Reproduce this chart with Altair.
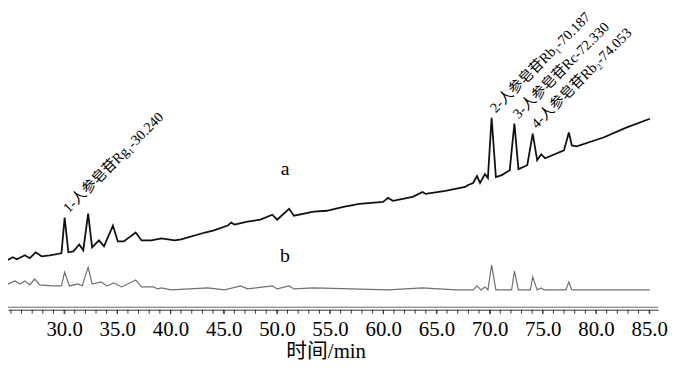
import altair as alt
import pandas as pd

# ---- data ----
time_a = [23.98, 24.35, 24.63, 25.19, 25.56, 26.31, 26.77, 27.33, 27.89, 28.63,
          29.75, 30.05, 30.40, 30.87, 31.42, 31.80, 32.26, 32.63, 33.28, 33.75,
          34.59, 35.05, 35.61, 36.73, 37.28, 38.21, 39.14, 40.40, 41.00, 43.24,
          44.00, 45.38, 45.70, 46.03, 47.24, 48.45, 49.57, 50.03, 51.15, 51.61,
          53.47, 54.68, 56.26, 57.75, 59.98, 60.45, 60.91, 62.77, 63.70, 63.98,
          65.84, 67.70, 67.98, 68.45, 68.82, 69.10, 69.56, 69.84, 70.187, 70.59,
          71.15, 71.89, 72.33, 72.71, 73.54, 74.053, 74.47, 74.85, 75.22, 76.99,
          77.45, 77.73, 78.19, 80.70, 82.84, 85.07]
signal_a = [53, 58, 50, 53, 51, 55, 52, 58, 54, 55,
            57, 93, 58, 59, 66, 60, 97, 63, 70, 64,
            85, 69, 69, 78, 70, 70, 72, 70, 71, 78,
            80, 85, 88, 86, 89, 91, 96, 91, 102, 95,
            99, 100, 104, 107, 109, 113, 110, 114, 119, 117,
            120, 124, 126, 128, 135, 128, 137, 133, 194, 134,
            136, 141, 188, 142, 146, 178, 151, 157, 153, 161,
            179, 166, 165, 174, 184, 193]

time_b = [23.98, 24.35, 24.73, 25.38, 25.84, 26.31, 26.77, 27.24, 27.70, 28.91,
          29.75, 30.05, 30.49, 31.33, 31.70, 32.26, 32.63, 33.47, 34.03, 34.68,
          35.42, 36.73, 37.28, 38.40, 38.80, 39.14, 40.07, 43.51, 45.10, 46.59,
          47.24, 49.57, 50.03, 51.15, 51.61, 53.47, 60.45, 63.70, 66.77, 68.45,
          68.82, 69.19, 69.56, 69.84, 70.187, 70.59, 72.07, 72.33, 72.71, 73.82,
          74.053, 74.47, 74.85, 75.13, 77.17, 77.45, 77.73, 85.07]
signal_b = [26, 33, 26, 29, 26, 29, 25, 31, 25, 24,
            24, 38, 24, 26, 24, 43, 26, 28, 24, 27,
            23, 30, 23, 23, 21, 22, 20, 22, 20, 24,
            21, 24, 21, 24, 21, 22, 20, 22, 20, 20,
            24, 20, 23, 20, 45, 20, 20, 39, 20, 20,
            33, 20, 22, 20, 20, 28, 20, 20]

peak_labels = ["1-人参皂苷Rg\u2081-30.240", "2-人参皂苷Rb\u2081-70.187",
               "3-人参皂苷Rc-72.330", "4-人参皂苷Rb\u2082-74.053"]
peak_times = [30.05, 70.187, 72.33, 74.053]
peak_signals = [93, 194, 188, 178]

trace_names = ["a", "b"]
major_ticks = [30, 35, 40, 45, 50, 55, 60, 65, 70, 75, 80, 85]
minor_ticks = list(range(25, 86))

# ---- layout ----
W, H = 657, 303
X_DOMAIN = [24.726, 85.84]
Y_DOMAIN = [0, 303]
SERIF = "Liberation Serif, Noto Sans CJK SC"

df_a = pd.DataFrame({"t": time_a, "v": signal_a})
df_b = pd.DataFrame({"t": time_b, "v": signal_b})
df_pk = pd.DataFrame({"t": peak_times, "v": peak_signals, "label": peak_labels})
df_minor = pd.DataFrame({"t": minor_ticks})
df_one = pd.DataFrame({"k": [0]})

x_scale = alt.Scale(domain=X_DOMAIN, nice=False, zero=False)
y_scale = alt.Scale(domain=Y_DOMAIN, nice=False, zero=False)

x_axis = alt.Axis(
    values=major_ticks, format=".1f",
    title="时间/min", titleFont=SERIF, titleFontSize=21, titleFontWeight="normal",
    titleColor="#000", titlePadding=1, titleX=321,
    labelFont=SERIF, labelFontSize=21, labelFontWeight="normal", labelColor="#000",
    labelPadding=5, labelOverlap=False, labelFlush=False, labelBound=False,
    tickSize=4, tickColor="#333", tickWidth=1,
    domainColor="#333", domainWidth=1, grid=False,
)

line_b = alt.Chart(df_b).mark_line(color="#707070", strokeWidth=1.2, clip=True).encode(
    x=alt.X("t:Q", scale=x_scale, axis=x_axis),
    y=alt.Y("v:Q", scale=y_scale, axis=None),
)

line_a = alt.Chart(df_a).mark_line(color="#111111", strokeWidth=1.8, clip=True).encode(
    x=alt.X("t:Q", scale=x_scale),
    y=alt.Y("v:Q", scale=y_scale),
)

minor_rules = alt.Chart(df_minor).mark_rule(color="#333333", strokeWidth=1).encode(
    x=alt.X("t:Q", scale=x_scale),
    y=alt.value(H), y2=alt.value(H + 4),
)

upper_rule = alt.Chart(df_one).mark_rule(color="#666666", strokeWidth=1).encode(
    y=alt.value(H - 2.5), x=alt.value(0), x2=alt.value(W)
)

peak_text = alt.Chart(df_pk).mark_text(
    angle=315, align="left", baseline="alphabetic", dx=6, dy=0,
    font=SERIF, fontSize=14.5, fontWeight="normal", color="#000",
).encode(
    x=alt.X("t:Q", scale=x_scale),
    y=alt.Y("v:Q", scale=y_scale),
    text="label:N",
)

name_a = alt.Chart(df_one).mark_text(
    font=SERIF, fontSize=20, fontWeight="normal", color="#000",
    align="center", baseline="middle"
).encode(x=alt.datum(50.77), y=alt.datum(142), text=alt.value(trace_names[0]))

name_b = alt.Chart(df_one).mark_text(
    font=SERIF, fontSize=20, fontWeight="normal", color="#000",
    align="center", baseline="middle"
).encode(x=alt.datum(50.77), y=alt.datum(54), text=alt.value(trace_names[1]))

chart = alt.layer(line_b, line_a, minor_rules, upper_rule, peak_text, name_a, name_b).properties(
    width=W, height=H,
    autosize=alt.AutoSizeParams(type="none"),
    padding={"left": 0, "top": 0, "right": 11, "bottom": 54},
    background="white",
).configure_view(stroke=None)

chart.save("out.html", embed_options={"renderer": "svg", "actions": False})
